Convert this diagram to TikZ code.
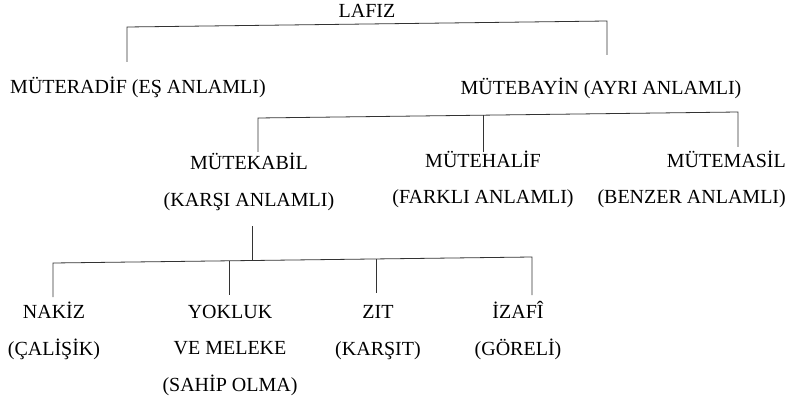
\documentclass[tikz,border=0pt]{standalone}
\usepackage{fontspec}
\setmainfont{Liberation Serif}
\begin{document}
\begin{tikzpicture}[x=1pt, y=-1pt,
    etiket/.style={inner sep=0pt, anchor=base, align=center, font=\fontsize{20}{36.5}\selectfont},
    kol/.style={line width=0.8pt, draw=black!80}]
  \useasboundingbox (0,0) rectangle (790,401);

  % Kök
  \node[etiket] (lafiz) at (367,18) {LAFIZ};

  % Birinci düzey
  \node[etiket] (muteradif) at (138,94) {MÜTERADİF (EŞ ANLAMLI)};
  \node[etiket] (mutebayin) at (601,95) {MÜTEBAYİN (AYRI ANLAMLI)};

  % İkinci düzey (taban: son satır)
  \node[etiket] (mutekabil) at (249,206) {MÜTEKABİL\\(KARŞI ANLAMLI)};
  \node[etiket] (mutehalif) at (483,204) {MÜTEHALİF\\(FARKLI ANLAMLI)};
  \node[etiket, align=right, anchor=base east] (mutemasil) at (786,204) {MÜTEMASİL\\(BENZER ANLAMLI)};

  % Üçüncü düzey
  \node[etiket] (nakiz) at (54,355) {NAKİZ\\(ÇALİŞİK)};
  \node[etiket] (yokluk) at (230,391) {YOKLUK\\VE MELEKE\\(SAHİP OLMA)};
  \node[etiket] (zit) at (378,355) {ZIT\\(KARŞIT)};
  \node[etiket] (izafi) at (518,355) {İZAFÎ\\(GÖRELİ)};

  % Kol uçları
  \coordinate (k1a) at (127,62);  \coordinate (k1b) at (127,27);
  \coordinate (k1c) at (607,21);  \coordinate (k1d) at (607,55);
  \coordinate (k2a) at (258,152); \coordinate (k2b) at (258,118);
  \coordinate (k2c) at (738,112); \coordinate (k2d) at (738,147);
  \coordinate (k2e) at (483,115); \coordinate (k2f) at (483,152);
  \coordinate (k3a) at (252,226); \coordinate (k3b) at (252,259.6);
  \coordinate (k3c) at (53,263);  \coordinate (k3d) at (53,297);
  \coordinate (k3e) at (532,257); \coordinate (k3f) at (532,295);
  \coordinate (k3g) at (229,260.8); \coordinate (k3h) at (229,295);
  \coordinate (k3i) at (376,259); \coordinate (k3j) at (376,293);

  % Kollar
  \draw[kol] (k1a) -- (k1b) -- (k1c) -- (k1d);
  \draw[kol] (k2a) -- (k2b) -- (k2c) -- (k2d);
  \draw[kol] (k2e) -- (k2f);
  \draw[kol] (k3a) -- (k3b);
  \draw[kol] (k3d) -- (k3c) -- (k3e) -- (k3f);
  \draw[kol] (k3g) -- (k3h);
  \draw[kol] (k3i) -- (k3j);
\end{tikzpicture}
\end{document}
